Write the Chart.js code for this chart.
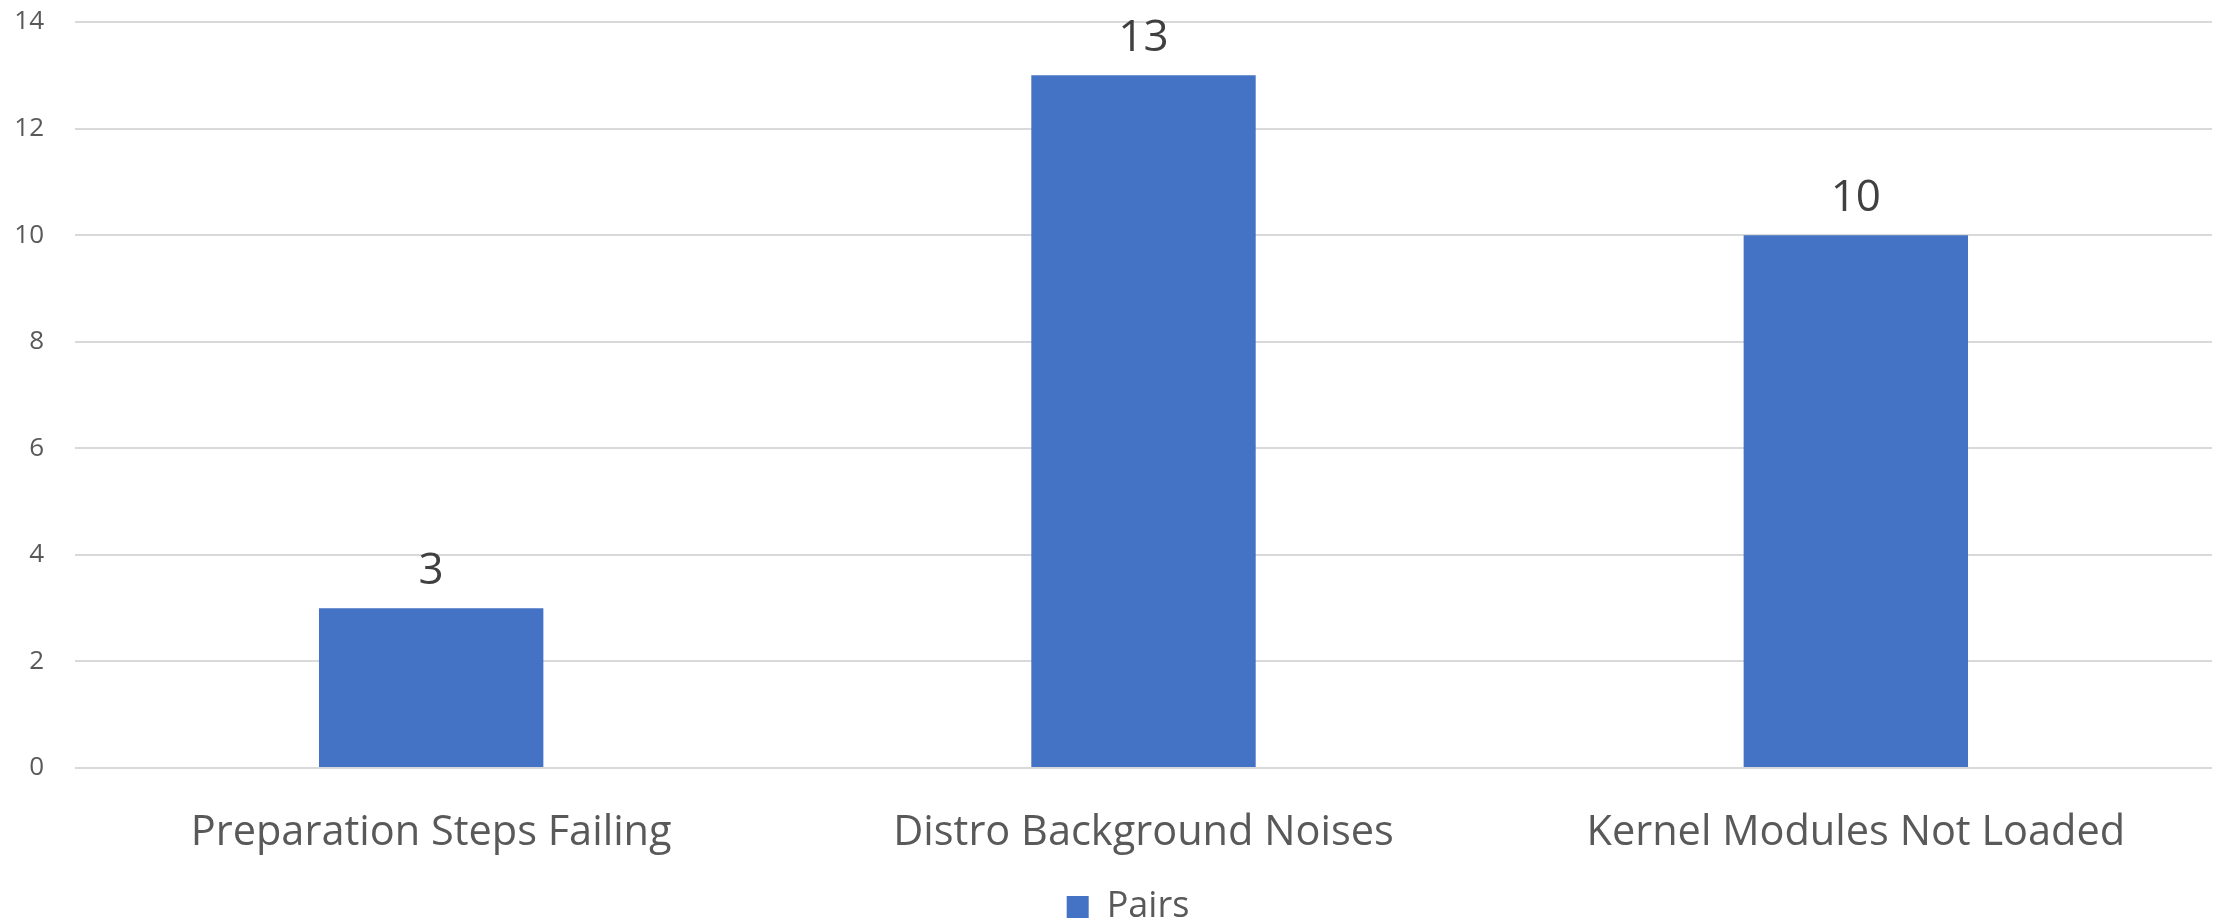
<!DOCTYPE html>
<html>
<head>
<meta charset="utf-8">
<script src="https://cdn.jsdelivr.net/npm/chart.js@4/dist/chart.umd.min.js"></script>
<style>
  html, body { margin: 0; padding: 0; background: #ffffff; }
  #wrap { width: 2221px; height: 922px; position: relative; }
</style>
</head>
<body>
<div id="wrap"><canvas id="c" width="2221" height="922"></canvas></div>
<script>
const categories = ["Preparation Steps Failing", "Distro Background Noises", "Kernel Modules Not Loaded"];
const pairs = [3, 13, 10];
const seriesName = "Pairs";
const yMax = 14;
const yStep = 2;

const FONT = "'Open Sans', 'Segoe UI', 'DejaVu Sans', sans-serif";

// Writes each bar's value above it
const valueLabels = {
  id: 'valueLabels',
  afterDatasetsDraw(chart) {
    const ctx = chart.ctx;
    const meta = chart.getDatasetMeta(0);
    ctx.save();
    ctx.font = "44px " + FONT;
    ctx.fillStyle = "#404040";
    ctx.textAlign = "center";
    ctx.textBaseline = "alphabetic";
    meta.data.forEach((bar, i) => {
      ctx.fillText(String(chart.data.datasets[0].data[i]), bar.x, bar.y - 24);
    });
    ctx.restore();
  }
};

// Nudges the legend right and down, under the plot's centre
const legendShift = {
  id: 'legendShift',
  afterLayout(chart) {
    const lg = chart.legend;
    if (lg) {
      lg.left += 22;
      lg.right += 22;
      lg.top += 13;
      lg.bottom += 13;
    }
  }
};

new Chart(document.getElementById('c'), {
  type: 'bar',
  data: {
    labels: categories,
    datasets: [{
      label: seriesName,
      data: pairs,
      backgroundColor: '#4472C4',
      borderWidth: 0,
      categoryPercentage: 1.0,
      barPercentage: 0.315
    }]
  },
  options: {
    responsive: false,
    animation: false,
    devicePixelRatio: 1,
    layout: { padding: { left: 0, right: 9, top: 22, bottom: 0 } },
    scales: {
      x: {
        grid: { display: false, drawTicks: false },
        border: { display: false },
        ticks: {
          color: '#595959',
          font: { family: FONT, size: 41.5 },
          padding: 40,
          maxRotation: 0,
          autoSkip: false
        },
        afterFit(scale) { scale.height = 108; }
      },
      y: {
        min: 0,
        max: yMax,
        ticks: {
          stepSize: yStep,
          color: '#595959',
          font: { family: FONT, size: 26 },
          padding: 31
        },
        grid: { color: '#d9d9d9', lineWidth: 2, drawTicks: false },
        border: { display: false },
        afterFit(scale) {
          scale.width = 75;
          scale.paddingTop = 0;
          scale.paddingBottom = 0;
        }
      }
    },
    plugins: {
      legend: {
        position: 'bottom',
        labels: {
          color: '#595959',
          font: { family: FONT, size: 36 },
          boxWidth: 22,
          boxHeight: 22,
          padding: 0
        }
      },
      tooltip: { enabled: false }
    }
  },
  plugins: [valueLabels, legendShift]
});
</script>
</body>
</html>
